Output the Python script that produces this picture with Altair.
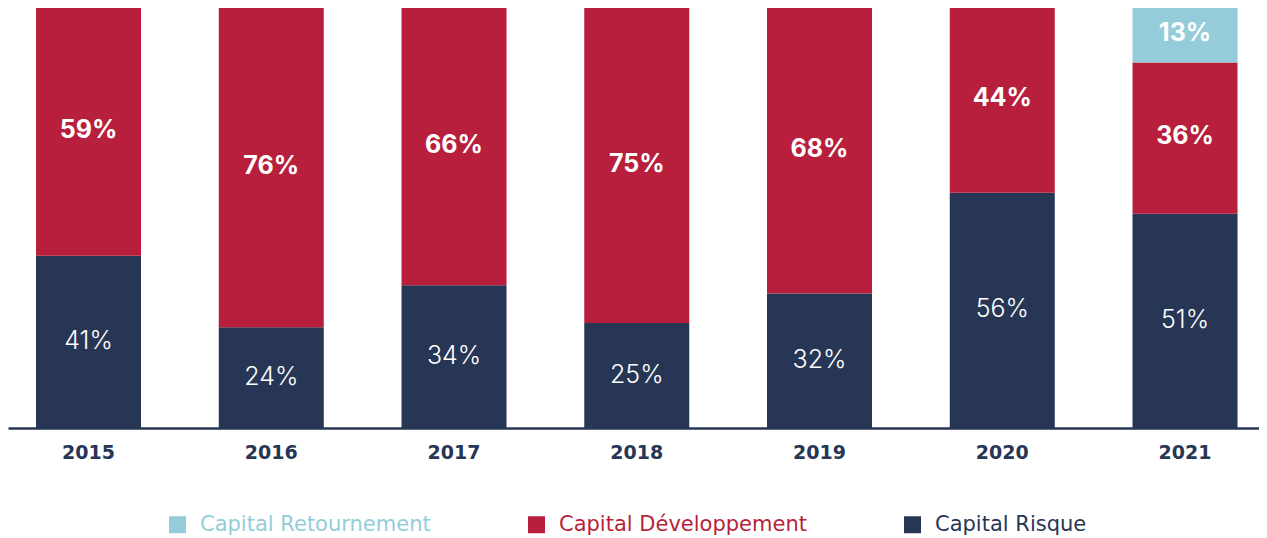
import altair as alt
import pandas as pd

years = ["2015", "2016", "2017", "2018", "2019", "2020", "2021"]
risque = [41, 24, 34, 25, 32, 56, 51]
developpement = [59, 76, 66, 75, 68, 44, 36]
retournement = [0, 0, 0, 0, 0, 0, 13]

series = ["Capital Retournement", "Capital Développement", "Capital Risque"]
colors = ["#94CDD9", "#B81F3C", "#283655"]

rows = []
for i, yr in enumerate(years):
    for name, vals, order in [("Capital Risque", risque, 0),
                              ("Capital Développement", developpement, 1),
                              ("Capital Retournement", retournement, 2)]:
        if vals[i] > 0:
            rows.append({"year": yr, "series": name, "value": vals[i], "ord": order})
df = pd.DataFrame(rows)

FONT = "Inter"
WIDE = "DejaVu Sans"
NAVY = "#283655"

base = alt.Chart(df).transform_stack(
    stack="value", groupby=["year"], as_=["v0", "v1"],
    sort=[alt.SortField("ord", order="ascending")]
).transform_calculate(
    mid="(datum.v0 + datum.v1) / 2",
    label="datum.value + '%'"
)

xenc = alt.X(
    "year:N", title=None, sort=years,
    scale=alt.Scale(paddingInner=0.4254, paddingOuter=0.1354, align=0.566),
    axis=alt.Axis(labelAngle=0, ticks=False, tickSize=0, grid=False,
                  domainColor=NAVY, domainWidth=2.5,
                  labelFont=WIDE, labelFontSize=19, labelFontWeight="bold",
                  labelColor=NAVY, labelBaseline="middle", labelPadding=24),
)
yscale = alt.Scale(domain=[0, 100], nice=False, zero=True)

bars = base.mark_bar().encode(
    x=xenc,
    y=alt.Y("v0:Q", scale=yscale, axis=None, title=None),
    y2="v1:Q",
    color=alt.Color(
        "series:N",
        scale=alt.Scale(domain=series, range=colors),
        legend=alt.Legend(
            title=None, orient="none", direction="horizontal",
            legendX=159, legendY=506, padding=0,
            symbolType="square", symbolSize=289, symbolStrokeWidth=0,
            symbolOpacity=1, labelFont=WIDE, labelFontSize=21,
            labelFontWeight=500, labelLimit=400, labelOffset=12,
            columnPadding=95,
            labelColor={"expr": "datum.label == 'Capital Risque' ? '#283655' : (datum.label == 'Capital Développement' ? '#B81F3C' : '#94CDD9')"},
        ),
    ),
)

bold_text = base.transform_filter("datum.ord > 0").mark_text(
    font=FONT, fontSize=25, fontWeight="bold", color="white", dy=-2
).encode(
    x=alt.X("year:N", sort=years, title=None),
    y=alt.Y("mid:Q", scale=yscale, axis=None),
    text="label:N",
)

light_text = base.transform_filter("datum.ord == 0").mark_text(
    font=FONT, fontSize=25, fontWeight=300, color="white", dy=-1
).encode(
    x=alt.X("year:N", sort=years, title=None),
    y=alt.Y("mid:Q", scale=yscale, axis=None),
    text="label:N",
)

chart = alt.layer(bars, bold_text, light_text).properties(
    width=1251, height=420,
    autosize=alt.AutoSizeParams(type="none"),
    padding={"left": 0, "top": 0, "right": 0, "bottom": 112},
    background="white",
).configure_view(stroke=None)

chart.save("out.html", embed_options={"renderer": "svg", "actions": False})
